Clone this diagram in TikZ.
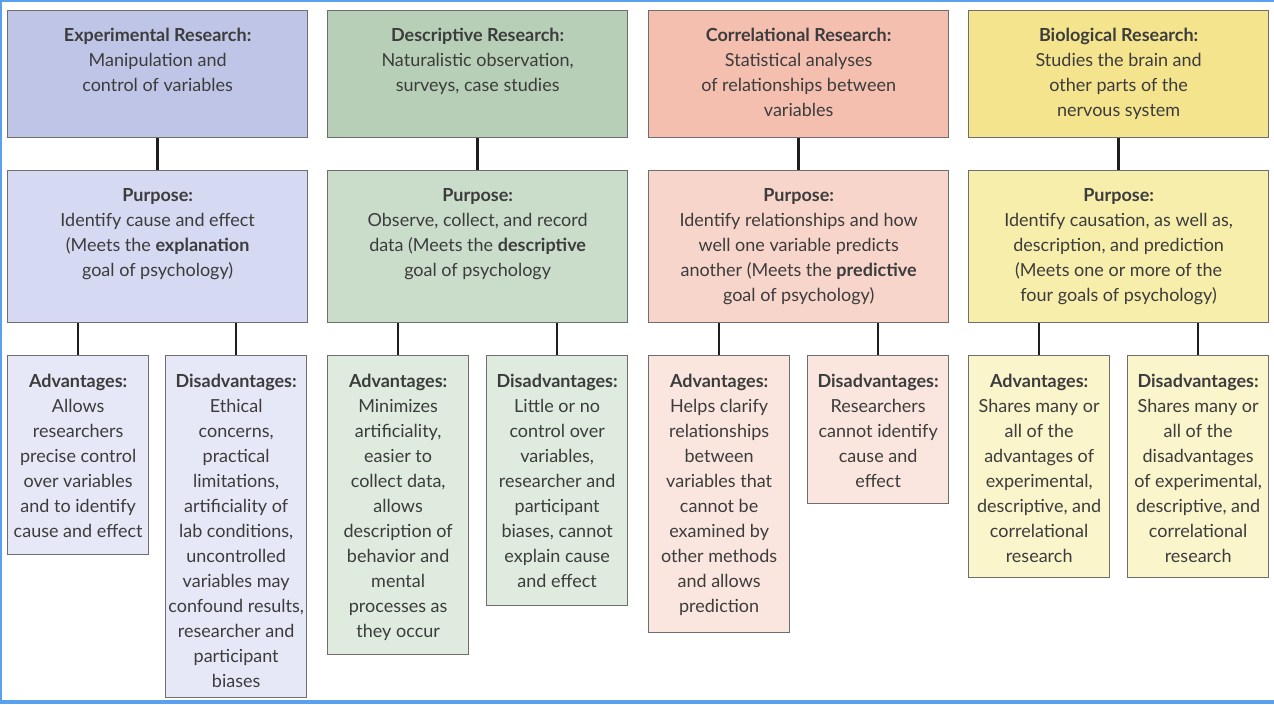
\documentclass[tikz,border=0pt]{standalone}
\usepackage{fontspec}
\setmainfont{Lato}
\usepackage{xcolor}

\definecolor{frameblue}{HTML}{5AA0F0}
\definecolor{cardedge}{HTML}{6E6E6E}
\definecolor{linkblack}{HTML}{1E1E1E}
\definecolor{bodygray}{HTML}{3C3C3C}
\definecolor{expTop}{HTML}{BFC5E6}
\definecolor{expMid}{HTML}{D5D9F1}
\definecolor{expLow}{HTML}{E6E8F7}
\definecolor{desTop}{HTML}{B6CFB6}
\definecolor{desMid}{HTML}{CADDCB}
\definecolor{desLow}{HTML}{DEEBDE}
\definecolor{corTop}{HTML}{F5BFB0}
\definecolor{corMid}{HTML}{F8D5CA}
\definecolor{corLow}{HTML}{FBE6DF}
\definecolor{bioTop}{HTML}{F5E48E}
\definecolor{bioMid}{HTML}{F8EEAC}
\definecolor{bioLow}{HTML}{FBF5CC}

% top-aligned text of a fixed box: height, width, top gap, lines
\newcommand{\cardbody}[4]{\parbox[t][#1][t]{#2}{\centering\vspace*{#3}#4\par}}

\begin{document}
\begin{tikzpicture}[x=1pt, y=-1pt,
    card/.style={draw=cardedge, line width=1.3pt, inner sep=0pt, anchor=north west,
        text=bodygray, font=\fontsize{18}{25}\selectfont},
    link/.style={draw=linkblack, line width=2.6pt}]
    \useasboundingbox (0,0) rectangle (1274,704);
    \fill[white] (0,0) rectangle (1274,704);
    \draw[frameblue, line width=2pt] (1,704) -- (1,1) -- (1274,1);
    \fill[frameblue] (0,700) rectangle (1274,704);

    % experimental
    \node[card, fill=expTop] (exp-top) at (7,10) {\cardbody{127pt}{300pt}{17pt}{\textbf{Experimental Research:}\\Manipulation and\\control of variables}};
    \node[card, fill=expMid] (exp-pur) at (7,170) {\cardbody{152pt}{300pt}{18pt}{\textbf{Purpose:}\\Identify cause and effect\\(Meets the \textbf{explanation}\\goal of psychology)}};
    \node[card, fill=expLow] (exp-adv) at (7,355) {\cardbody{199pt}{141pt}{18pt}{\textbf{Advantages:}\\Allows\\researchers\\precise control\\over variables\\and to identify\\cause and effect}};
    \node[card, fill=expLow] (exp-dis) at (165,355) {\cardbody{342pt}{141pt}{18pt}{\textbf{Disadvantages:}\\Ethical\\concerns,\\practical\\limitations,\\artificiality of\\lab conditions,\\uncontrolled\\variables may\\confound results,\\researcher and\\participant\\biases}};

    % descriptive
    \node[card, fill=desTop] (des-top) at (327,10) {\cardbody{127pt}{300pt}{17pt}{\textbf{Descriptive Research:}\\Naturalistic observation,\\surveys, case studies}};
    \node[card, fill=desMid] (des-pur) at (327,170) {\cardbody{152pt}{300pt}{18pt}{\textbf{Purpose:}\\Observe, collect, and record\\data (Meets the \textbf{descriptive}\\goal of psychology}};
    \node[card, fill=desLow] (des-adv) at (327,355) {\cardbody{299pt}{141pt}{18pt}{\textbf{Advantages:}\\Minimizes\\artificiality,\\easier to\\collect data,\\allows\\description of\\behavior and\\mental\\processes as\\they occur}};
    \node[card, fill=desLow] (des-dis) at (486,355) {\cardbody{250pt}{141pt}{18pt}{\textbf{Disadvantages:}\\Little or no\\control over\\variables,\\researcher and\\participant\\biases, cannot\\explain cause\\and effect}};

    % correlational
    \node[card, fill=corTop] (cor-top) at (648,10) {\cardbody{127pt}{300pt}{17pt}{\textbf{Correlational Research:}\\Statistical analyses\\of relationships between\\variables}};
    \node[card, fill=corMid] (cor-pur) at (648,170) {\cardbody{152pt}{300pt}{18pt}{\textbf{Purpose:}\\Identify relationships and how\\well one variable predicts\\another (Meets the \textbf{predictive}\\goal of psychology)}};
    \node[card, fill=corLow] (cor-adv) at (648,355) {\cardbody{277pt}{141pt}{18pt}{\textbf{Advantages:}\\Helps clarify\\relationships\\between\\variables that\\cannot be\\examined by\\other methods\\and allows\\prediction}};
    \node[card, fill=corLow] (cor-dis) at (807,355) {\cardbody{148pt}{141pt}{18pt}{\textbf{Disadvantages:}\\Researchers\\cannot identify\\cause and\\effect}};

    % biological
    \node[card, fill=bioTop] (bio-top) at (968,10) {\cardbody{127pt}{300pt}{17pt}{\textbf{Biological Research:}\\Studies the brain and\\other parts of the\\nervous system}};
    \node[card, fill=bioMid] (bio-pur) at (968,170) {\cardbody{152pt}{300pt}{18pt}{\textbf{Purpose:}\\Identify causation, as well as,\\description, and prediction\\(Meets one or more of the\\four goals of psychology)}};
    \node[card, fill=bioLow] (bio-adv) at (968,355) {\cardbody{222pt}{141pt}{18pt}{\textbf{Advantages:}\\Shares many or\\all of the\\advantages of\\experimental,\\descriptive, and\\correlational\\research}};
    \node[card, fill=bioLow] (bio-dis) at (1127,355) {\cardbody{222pt}{141pt}{18pt}{\textbf{Disadvantages:}\\Shares many or\\all of the\\disadvantages\\of experimental,\\descriptive, and\\correlational\\research}};

    \foreach \c in {exp,des,cor,bio} {
        \draw[link] (\c-top.south) -- (\c-pur.north);
        \draw[link] (\c-adv.north) -- (\c-adv.north |- \c-pur.south);
        \draw[link] (\c-dis.north) -- (\c-dis.north |- \c-pur.south);
    }
\end{tikzpicture}
\end{document}
